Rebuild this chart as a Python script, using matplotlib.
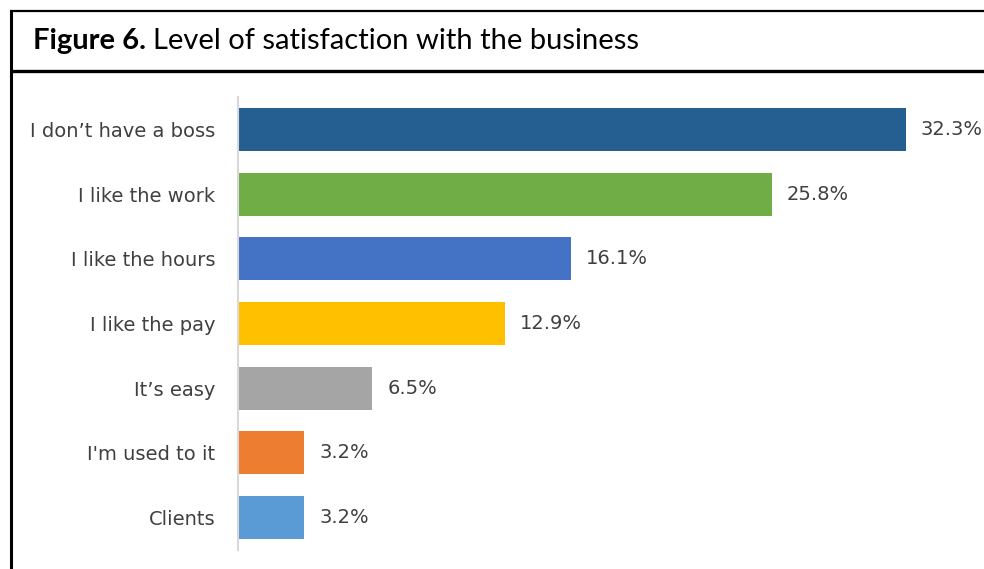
import matplotlib
matplotlib.use('Agg')
import matplotlib.pyplot as plt
from matplotlib.lines import Line2D

# data
categories = ["I don\u2019t have a boss", "I like the work", "I like the hours",
              "I like the pay", "It\u2019s easy", "I'm used to it", "Clients"]
values = [32.3, 25.8, 16.1, 12.9, 6.5, 3.2, 3.2]
colors = ['#255E91', '#70AD47', '#4472C4', '#FFC000', '#A5A5A5', '#ED7D31', '#5B9BD5']

W, H = 984, 569
fig = plt.figure(figsize=(W / 100, H / 100), dpi=100)
fig.patch.set_facecolor('white')

# axes placed in pixel terms
x0, x1 = 238, 984
ytop, ybot = 97, 550
ax = fig.add_axes([x0 / W, (H - ybot) / H, (x1 - x0) / W, (ybot - ytop) / H])

ypos = list(range(len(categories)))
ax.barh(ypos, values, height=0.665, color=colors, edgecolor='none')
ax.set_ylim(len(categories) - 0.5, -0.5)
ax.set_xlim(0, (x1 - x0) / 20.68)

for y, v in zip(ypos, values):
    ax.annotate(f'{v:.1f}%', (v, y), xytext=(15, 0), textcoords='offset pixels',
                va='center', ha='left', fontsize=14, color='#404040')

ax.set_yticks(ypos)
ax.set_yticklabels(categories, fontsize=14, color='#404040')
ax.tick_params(axis='y', length=0, pad=16.5)
ax.set_xticks([])
for s in ['top', 'right', 'bottom']:
    ax.spines[s].set_visible(False)
ax.spines['left'].set_color('#D9D9D9')
ax.spines['left'].set_linewidth(1.5)
ax.patch.set_visible(False)

# frame lines
def px_line(xs, ys, lw):
    fig.add_artist(Line2D([x / W for x in xs], [(H - y) / H for y in ys],
                          transform=fig.transFigure, color='black', linewidth=lw,
                          solid_capstyle='butt'))

px_line([10, W], [10.5, 10.5], 1.6)
px_line([11, 11], [10, H], 2.2)
px_line([10, W], [71, 71], 2.4)

# title: bold part then regular part
renderer = fig.canvas.get_renderer()
t1 = fig.text(33 / W, (H - 41) / H, 'Figure 6.', fontsize=21, fontweight='bold',
              family='Lato', va='center', ha='left', color='black')
bb = t1.get_window_extent(renderer)
fig.text(bb.x1 / W + 7 / W, (H - 41) / H, 'Level of satisfaction with the business',
         fontsize=21, family='Lato', va='center', ha='left', color='black')

fig.savefig('out.png', dpi=100, facecolor='white')
